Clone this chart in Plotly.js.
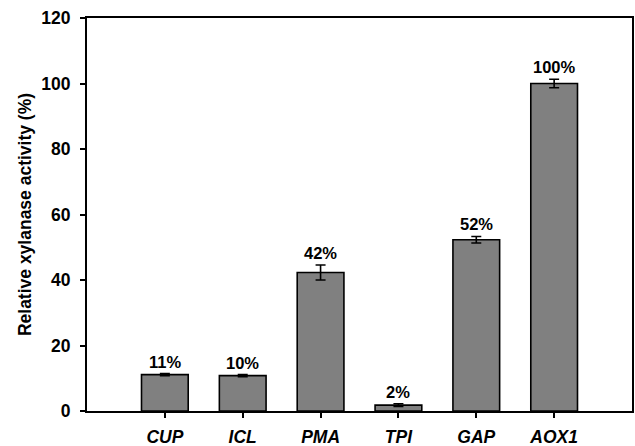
<!DOCTYPE html>
<html>
<head>
<meta charset="utf-8">
<script src="https://cdn.plot.ly/plotly-3.0.1.min.js"></script>
<style>html,body{margin:0;padding:0;background:#fff}#chart{width:635px;height:446px}</style>
</head>
<body>
<div id="chart"></div>
<script>
const categories = ["CUP", "ICL", "PMA", "TPI", "GAP", "AOX1"];
const activity = [11.1, 10.8, 42.3, 1.8, 52.3, 100];
const errors = [0.3, 0.3, 2.3, 0.4, 1.0, 1.3];
const labels = ["11%", "10%", "42%", "2%", "52%", "100%"];
const yTicks = [0, 20, 40, 60, 80, 100, 120];

const FONT = "Arial, 'Liberation Sans', Helvetica, sans-serif";

const trace = {
  type: "bar",
  x: categories.map((c, i) => i),
  y: activity,
  width: 0.6,
  marker: {color: "#808080", line: {color: "#000", width: 1.6}},
  error_y: {type: "data", array: errors, visible: true, color: "#000", thickness: 1.6, width: 5},
  hoverinfo: "none"
};

const annotations = categories.map((c, i) => ({
  x: i, y: activity[i] + errors[i], xref: "x", yref: "y",
  text: "<b>" + labels[i] + "</b>", showarrow: false,
  yanchor: "bottom", yshift: 1,
  font: {family: FONT, size: 16.5, color: "#000"}
}));

const layout = {
  width: 635, height: 446,
  margin: {l: 87, r: 3, t: 18, b: 35},
  paper_bgcolor: "#fff", plot_bgcolor: "#fff",
  showlegend: false,
  font: {family: FONT, color: "#000"},
  xaxis: {
    range: [-1, 6],
    tickmode: "array",
    tickvals: categories.map((c, i) => i),
    ticktext: categories.map(c => "<b><i>" + c + "</i></b>"),
    tickfont: {family: FONT, size: 17.5, color: "#000"},
    ticks: "outside", ticklen: 5, tickwidth: 2, tickcolor: "#000",
    showline: true, linecolor: "#000", linewidth: 2, mirror: true,
    showgrid: false, zeroline: false, fixedrange: true,
    ticklabelstandoff: 4
  },
  yaxis: {
    range: [0, 120],
    tickmode: "array",
    tickvals: yTicks,
    ticktext: yTicks.map(v => "<b>" + v + "</b>"),
    tickfont: {family: FONT, size: 17.5, color: "#000"},
    ticks: "outside", ticklen: 5, tickwidth: 2, tickcolor: "#000",
    showline: true, linecolor: "#000", linewidth: 2, mirror: true,
    showgrid: false, zeroline: false, fixedrange: true,
    ticklabelstandoff: 6,
    title: {text: "<b>Relative xylanase activity (%)</b>", font: {family: FONT, size: 17.5, color: "#000"}, standoff: 5}
  },
  annotations: annotations
};

Plotly.newPlot("chart", [trace], layout, {displayModeBar: false, staticPlot: true});
</script>
</body>
</html>
